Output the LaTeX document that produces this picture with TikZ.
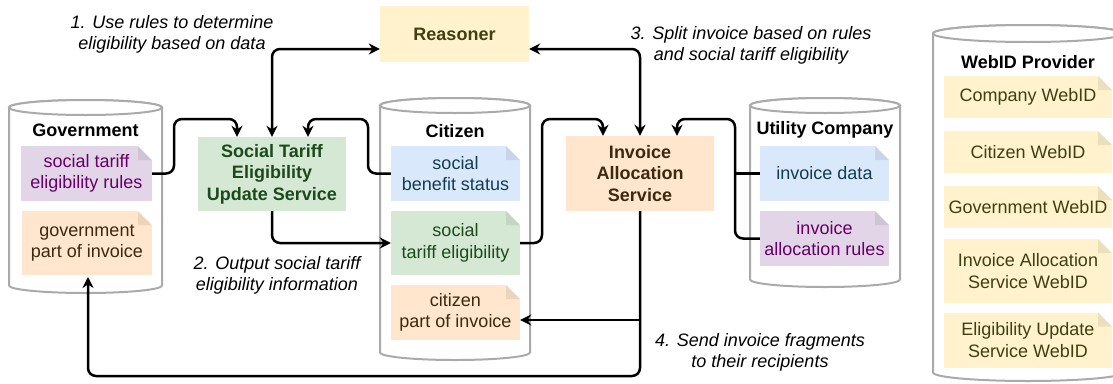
\documentclass[tikz,border=0pt]{standalone}
\usepackage{fontspec}
\setmainfont{Liberation Sans}
\usetikzlibrary{arrows.meta}
\definecolor{yfill}{HTML}{FFF2CC}
\definecolor{ytext}{HTML}{3F3F12}
\definecolor{gfill}{HTML}{D5E8D4}
\definecolor{gtext}{HTML}{1C4A1C}
\definecolor{ofill}{HTML}{FFE6CC}
\definecolor{otext}{HTML}{3D2810}
\definecolor{bfill}{HTML}{DAE8FC}
\definecolor{btext}{HTML}{123D4F}
\definecolor{pfill}{HTML}{E1D5E7}
\definecolor{ptext}{HTML}{660066}
\definecolor{cylgray}{HTML}{AAAAAA}
\newcommand\drawcyl[5]{%
  \pgfmathsetmacro\cylrx{(#2-#1)/2}%
  \pgfmathsetmacro\cylxc{(#1+#2)/2}%
  \filldraw[cyl] (#1,#3) -- (#1,#4) arc[start angle=180,end angle=360,x radius=\cylrx pt,y radius=#5pt] -- (#2,#3) arc[start angle=0,end angle=180,x radius=\cylrx pt,y radius=#5pt] -- cycle;
  \draw[cyl] (\cylxc,#3) ellipse[x radius=\cylrx pt,y radius=#5pt];
}
\tikzset{
  cyl/.style={draw=cylgray, line width=2pt, fill=white},
  regular/.style={font=\fontsize{18}{21.5}\selectfont},
  boldf/.style={font=\fontsize{18}{21.5}\selectfont\bfseries},
  itf/.style={font=\fontsize{18}{21}\selectfont\itshape, align=center},
  box/.style={boldf, align=center, inner sep=0pt},
  note/.style={regular, align=center, inner sep=0pt,
    path picture={
      \fill[white] ([xshift=-14pt]path picture bounding box.north east) -- (path picture bounding box.north east) -- ([yshift=-14pt]path picture bounding box.north east) -- cycle;
      \fill[black, opacity=0.08] ([xshift=-14pt]path picture bounding box.north east) -- ([xshift=-14pt,yshift=-14pt]path picture bounding box.north east) -- ([yshift=-14pt]path picture bounding box.north east) -- cycle;
    }},
  title/.style={boldf, inner sep=0pt},
  conn/.style={line width=2.5pt, rounded corners=8pt, -{Stealth[length=11pt,width=11pt]}},
  biconn/.style={line width=2.5pt, rounded corners=8pt, {Stealth[length=11pt,width=11pt]}-{Stealth[length=11pt,width=11pt]}},
  plain/.style={line width=2.5pt, rounded corners=8pt}
}
\begin{document}
\begin{tikzpicture}[x=1pt,y=-1pt]
\useasboundingbox (0,0) rectangle (1113,383);
\begin{scope}
\clip (0,0) rectangle (1113,383);
% cylinders
\drawcyl{9}{162}{107.5}{285.5}{7.5}
\drawcyl{380}{530}{105.5}{352.5}{7.5}
\drawcyl{750}{900}{105.5}{279.5}{7.5}
\drawcyl{933}{1123}{33.5}{372.5}{8.5}
\end{scope}
% titles
\node[title] (tGov) at (85.5,130) {Government};
\node[title] (tCit) at (455,131) {Citizen};
\node[title] (tUtil) at (825,130) {Utility Company};
\node[title] (tWeb) at (1028,62) {WebID Provider};
% service boxes
\node[box, fill=yfill, text=ytext, minimum width=149, minimum height=56] (reasoner) at (454.5,34) {Reasoner};
\node[box, fill=gfill, text=gtext, minimum width=148, minimum height=74] (stu) at (272,174) {Social Tariff\\Eligibility\\Update Service};
\node[box, fill=ofill, text=otext, minimum width=148, minimum height=75] (ias) at (640,173.5) {Invoice\\Allocation\\Service};
% government documents
\node[note, fill=pfill, text=ptext, minimum width=131, minimum height=55] (gRules) at (86.5,173.5) {social tariff\\eligibility rules};
\node[note, fill=ofill, text=otext, minimum width=130, minimum height=64] (gPart) at (87,243) {government\\part of invoice};
% citizen documents
\node[note, fill=bfill, text=btext, minimum width=129, minimum height=55] (cBen) at (455.5,173.5) {social\\benefit status};
\node[note, fill=gfill, text=gtext, minimum width=129, minimum height=64] (cElig) at (455.5,243) {social\\tariff eligibility};
\node[note, fill=ofill, text=otext, minimum width=129, minimum height=55] (cPart) at (455.5,312.5) {citizen\\part of invoice};
% utility documents
\node[note, fill=bfill, text=btext, minimum width=129, minimum height=55] (uData) at (824.5,173.5) {invoice data};
\node[note, fill=pfill, text=ptext, minimum width=129, minimum height=55] (uRules) at (824.5,238.5) {invoice\\allocation rules};
% webid documents
\node[note, fill=yfill, text=ytext, minimum width=168, minimum height=42] (wCompany) at (1028,97) {Company WebID};
\node[note, fill=yfill, text=ytext, minimum width=168, minimum height=42] (wCitizen) at (1028,152) {Citizen WebID};
\node[note, fill=yfill, text=ytext, minimum width=168, minimum height=42] (wGov) at (1028,207) {Government WebID};
\node[note, fill=yfill, text=ytext, minimum width=168, minimum height=64] (wIAS) at (1028,271) {Invoice Allocation\\Service WebID};
\node[note, fill=yfill, text=ytext, minimum width=168, minimum height=55] (wSTU) at (1028,340) {Eligibility Update\\Service WebID};
% labels
\node[itf] (l1) at (172,34) {1. Use rules to determine\\eligibility based on data};
\node[itf] (l3) at (751,45) {3. Split invoice based on rules\\and social tariff eligibility};
\node[itf] (l2) at (277,275) {2. Output social tariff\\eligibility information};
\node[itf] (l4) at (760,352.5) {4. Send invoice fragments\\to their recipients};
% coordinates
\coordinate (govIn) at (88,277);
\coordinate (branch) at (640,320);
% connectors
\draw[biconn] (stu.north) |- (reasoner.west |- 0,49);
\draw[biconn] (reasoner.east |- 0,49) -| (ias.north);
\draw[conn] (gRules.east) -| (174,119) -| ([xshift=-35]stu.north);
\draw[conn] (cBen.west) -| (368,119) -| ([xshift=36]stu.north);
\draw[conn] (stu.south) |- (cElig.west);
\draw[conn] (cElig.east) -| (542,119) -| ([xshift=-37]ias.north);
\draw[conn] (uRules.west) -| (735,119) -| ([xshift=37]ias.north);
\draw[plain] (uData.west) -- (735,173.5);
\draw[conn] (ias.south) |- (88,376) -- (govIn);
\draw[conn] (branch) -- (cPart.east |- branch);
\end{tikzpicture}
\end{document}
